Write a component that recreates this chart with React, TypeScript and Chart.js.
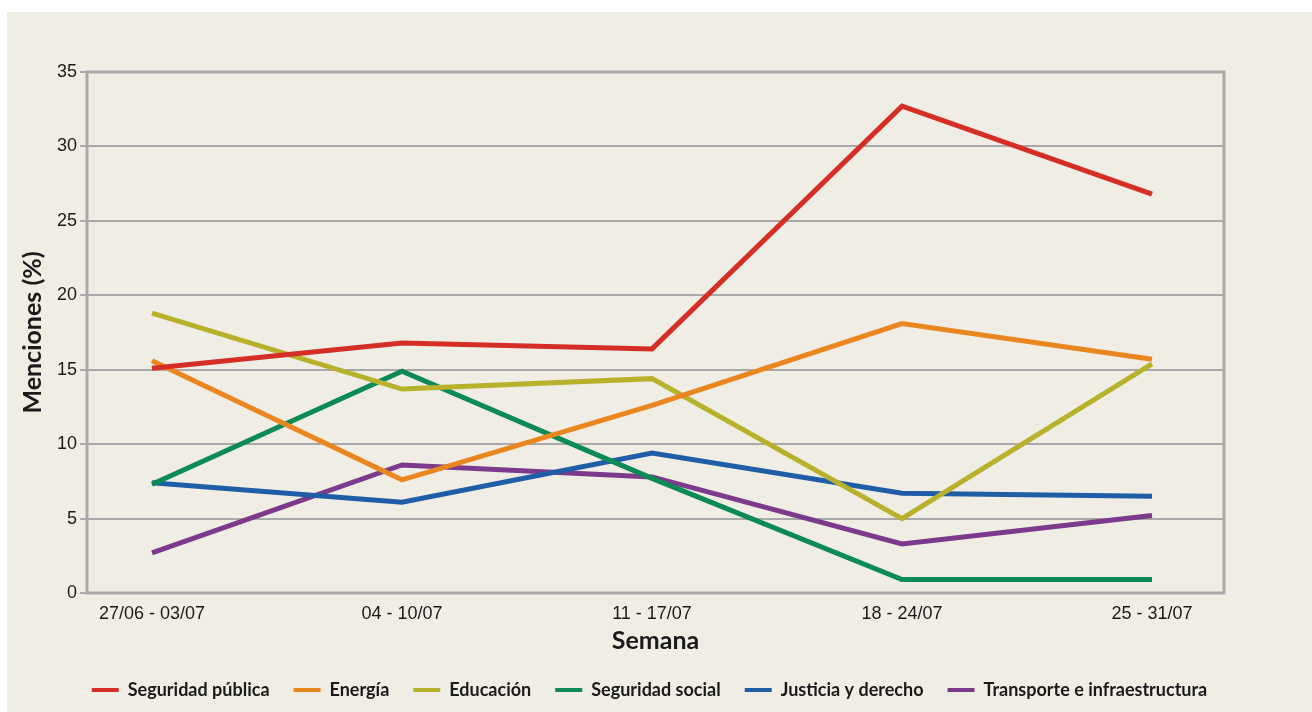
import React, { useEffect, useRef } from "react";
import { Chart, registerables } from "chart.js";

Chart.register(...registerables);

const weeks = ["27/06 - 03/07", "04 - 10/07", "11 - 17/07", "18 - 24/07", "25 - 31/07"];
const seguridadPublica = [15.1, 16.8, 16.4, 32.7, 26.8];
const energia = [15.6, 7.6, 12.6, 18.1, 15.7];
const educacion = [18.8, 13.7, 14.4, 5.0, 15.4];
const seguridadSocial = [7.3, 14.9, 7.7, 0.9, 0.9];
const justicia = [7.4, 6.1, 9.4, 6.7, 6.5];
const transporte = [2.7, 8.6, 7.8, 3.3, 5.2];

const seriesNames = [
  "Seguridad pública",
  "Energía",
  "Educación",
  "Seguridad social",
  "Justicia y derecho",
  "Transporte e infraestructura",
];
const seriesValues = [seguridadPublica, energia, educacion, seguridadSocial, justicia, transporte];
const seriesColors = ["#d42e26", "#ea861f", "#b8b12c", "#0b8a55", "#1f5ea6", "#7b3a8b"];

const yMin = 0;
const yMax = 35;
const yStep = 5;

const frame = {
  id: "frame",
  beforeDatasetsDraw(chart: any) {
    const { ctx, chartArea } = chart;
    ctx.save();
    ctx.strokeStyle = "#a9a9a9";
    ctx.lineWidth = 3;
    ctx.strokeRect(chartArea.left, chartArea.top, chartArea.right - chartArea.left, chartArea.bottom - chartArea.top);
    ctx.restore();
  },
};

export default function App() {
  const ref = useRef<HTMLCanvasElement>(null);

  useEffect(() => {
    const chart = new Chart(ref.current!, {
      type: "line",
      data: {
        datasets: seriesNames.map((name, i) => ({
          label: name,
          data: seriesValues[i].map((v, j) => ({ x: j, y: v })),
          borderColor: seriesColors[i],
          backgroundColor: seriesColors[i],
          borderWidth: 5,
          pointRadius: 0,
          pointHoverRadius: 0,
          tension: 0,
          borderJoinStyle: "miter" as const,
          borderCapStyle: "butt" as const,
        })),
      },
      plugins: [frame],
      options: {
        responsive: false,
        animation: false,
        devicePixelRatio: 1,
        layout: { padding: { top: 60, left: 0, right: 20, bottom: 3 } },
        plugins: {
          tooltip: { enabled: false },
          legend: {
            position: "bottom",
            labels: {
              boxWidth: 27,
              boxHeight: 4,
              padding: 24,
              color: "#1a1a1a",
              font: { family: "Lato", size: 18, weight: "bold" },
              generateLabels: (c: any) =>
                Chart.defaults.plugins.legend.labels
                  .generateLabels(c)
                  .map((l: any) => ({ ...l, lineWidth: 0 })),
            },
          },
        },
        scales: {
          x: {
            type: "linear",
            min: -0.26,
            max: 4.288,
            afterBuildTicks: (s: any) => {
              s.ticks = weeks.map((_, i) => ({ value: i }));
            },
            afterFit: (s: any) => {
              s.height = 64;
            },
            grid: { display: false, drawTicks: false },
            border: { display: false },
            ticks: {
              autoSkip: false,
              maxRotation: 0,
              padding: 10,
              color: "#1a1a1a",
              font: { family: "Liberation Sans", size: 18 },
              callback: (v: any) => weeks[v] ?? "",
            },
            title: {
              display: true,
              text: "Semana",
              color: "#1a1a1a",
              font: { family: "Lato", size: 25, weight: "bold" },
              padding: { top: 0, bottom: 1 },
            },
          },
          y: {
            min: yMin,
            max: yMax,
            afterFit: (s: any) => {
              s.width = 80;
            },
            ticks: {
              stepSize: yStep,
              padding: 3,
              color: "#1a1a1a",
              font: { family: "Liberation Sans", size: 18 },
            },
            grid: { color: "#a9a9a9", lineWidth: 2, tickLength: 7, tickColor: "#a9a9a9" },
            border: { display: false },
            title: {
              display: true,
              text: "Menciones (%)",
              color: "#1a1a1a",
              font: { family: "Lato", size: 25, weight: "bold" },
              padding: { top: 11, bottom: 0 },
            },
          },
          yR: {
            position: "right",
            min: 0,
            max: 1,
            afterFit: (s: any) => {
              s.width = 68;
            },
            ticks: { display: false },
            grid: { display: false, drawTicks: false },
            border: { display: false },
          },
        },
      },
    } as any);
    return () => chart.destroy();
  }, []);

  return (
    <div
      style={{
        position: "fixed",
        left: 7,
        top: 12,
        width: 1305,
        height: 700,
        background: "#f0ede5",
      }}
    >
      <canvas ref={ref} width={1305} height={700} style={{ display: "block" }} />
    </div>
  );
}
